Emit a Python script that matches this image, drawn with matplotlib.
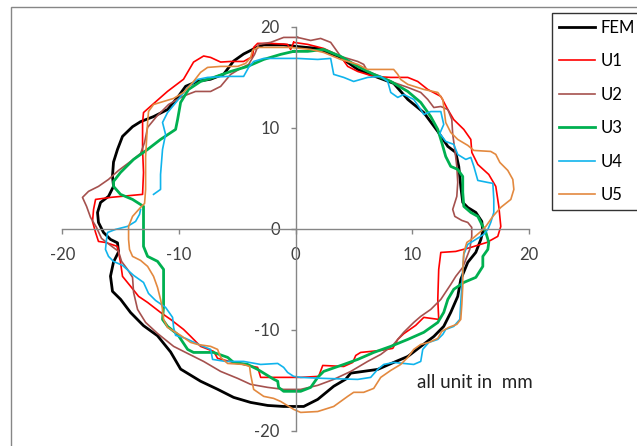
import matplotlib.pyplot as plt
from matplotlib.patches import Rectangle

plt.rcParams['font.family'] = ['Lato', 'DejaVu Sans']
plt.rcParams['axes.unicode_minus'] = False

# measured contours (mm), traced clockwise starting near the top
fem_x = [0.0, 1.89, 3.86, 5.32, 7.03, 8.40, 9.0, 9.61, 10.98, 12.18, 13.04, 13.72, 13.98, 14.15, 14.32,
         14.75, 15.44, 15.95, 16.04, 15.87, 15.44, 14.75, 14.15, 13.89, 13.29, 12.69, 11.84, 10.72, 9.61,
         8.40, 7.03, 4.72, 4.29, 3.26, 1.89, 0.69, -1.03, -2.40, -3.86, -5.32, -6.69, -8.15, -9.86, -10.72,
         -11.84, -13.04, -14.15, -15.0, -15.7, -15.87, -15.61, -15.18, -15.27, -15.87, -16.47, -16.9, -16.98,
         -16.72, -16.04, -15.61, -15.7, -15.61, -15.27, -14.84, -13.98, -13.29, -12.18, -10.98, -10.12, -9.43,
         -8.40, -7.29, -6.17, -5.32, -4.46, -3.43, -2.74, -1.03, 0.0]
fem_y = [18.05, 17.85, 16.96, 15.77, 14.98, 14.39, 13.6, 12.8, 11.5, 9.63, 8.15, 7.55, 6.15, 4.19, 2.6,
         2.1, 1.61, 0.72, -0.27, -1.06, -2.34, -3.33, -5.02, -6.7, -8.29, -9.67, -10.67, -11.66, -12.65,
         -13.24, -13.93, -14.3, -14.9, -15.6, -16.9, -17.6, -17.6, -17.5, -17.2, -16.7, -15.9, -15.1, -13.9,
         -12.2, -10.6, -9.6, -8.3, -7.0, -6.2, -4.7, -3.3, -2.3, -1.4, -1.06, -0.37, 0.62, 1.6,
         2.6, 3.2, 4.2, 5.2, 6.6, 7.85, 9.14, 10.1, 10.6, 11.1, 11.8, 13.0, 14.1,
         14.6, 14.8, 15.3, 16.6, 17.3, 17.9, 18.2, 18.2, 18.05]

u1_x = [-0.17, 1.03, 2.40, 3.86, 4.46, 5.32, 6.69, 8.15, 9.61, 10.46, 11.32, 12.44, 13.04, 13.55, 14.41,
        15.01, 15.10, 15.61, 16.55, 17.15, 17.41, 17.58, 17.32, 16.38, 15.01, 13.72, 12.44, 12.26, 12.18,
        12.26, 10.98, 10.29, 9.26, 8.75, 8.32, 7.29, 5.57, 5.15, 4.89, 4.12, 2.32, 1.97, 0.43, -3.0, -3.26,
        -5.32, -6.69, -7.03, -8.15, -9.0, -9.61, -10.72, -11.58, -12.69, -13.46, -14.15, -14.84, -15.01,
        -15.27, -16.3, -16.9, -17.15, -17.41, -17.32, -17.15, -15.87, -13.12, -13.04, -13.12, -13.12,
        -13.04, -12.26, -10.98, -9.61, -8.75, -7.89, -7.29, -6.43, -5.57, -4.46, -3.69, -3.60, -3.26,
        -2.14, -0.69, -0.43, -0.17]
u1_y = [18.45, 18.25, 17.85, 17.06, 16.07, 15.57, 15.08, 14.98, 14.98, 14.58, 13.79, 13.1, 11.8, 10.8, 9.83,
        8.84, 7.55, 6.36, 5.37, 4.19, 2.21, 0.23, -0.76, -1.36, -1.85, -2.25, -2.35, -4.03, -7.0,
        -8.98, -8.78, -9.57, -10.4, -10.96, -11.85, -12.05, -12.25, -12.55, -13.24, -13.64, -13.54, -14.62,
        -14.72, -14.72, -13.73, -13.24, -12.84, -12.15, -11.65, -10.66, -9.97, -8.98, -8.29, -7.3, -6.7,
        -5.7, -4.72, -3.34, -1.75, -1.36, -1.26, -0.37, 0.72, 1.91, 2.9, 3.1, 3.4, 5.57, 7.85, 10.5,
        11.5, 12.3, 13.6, 14.8, 16.5, 17.1, 16.96, 16.5, 16.56, 16.56, 17.06, 17.95, 18.35,
        18.35, 18.25, 17.75, 18.45]

u2_x = [0.17, 1.29, 2.14, 3.0, 3.86, 5.32, 5.83, 6.17, 7.29, 8.4, 9.61, 10.72, 11.32, 11.84, 12.44, 13.04,
        13.38, 13.46, 13.64, 13.81, 13.89, 13.81, 13.46, 13.64, 14.24, 14.75, 15.09, 15.09, 14.92, 14.32,
        13.72, 13.29, 12.44, 11.58, 10.72, 10.12, 9.26, 8.32, 7.29, 6.17, 4.72, 3.26, 1.89, 0.43, -1.03,
        -2.40, -3.86, -4.97, -6.43, -7.89, -9.26, -10.46, -11.84, -12.86, -13.55, -13.89, -13.98, -14.41,
        -14.92, -15.18, -15.87, -16.64, -17.07, -17.58, -17.92, -18.27, -17.75, -16.9, -16.04, -15.18,
        -14.15, -13.29, -12.95, -12.69, -11.92, -10.89, -9.69, -8.58, -7.29, -6.43, -5.57, -4.72, -4.03,
        -3.52, -3.17, -2.14, -1.03, 0.17]
u2_y = [18.94, 18.64, 18.84, 18.45, 17.06, 16.56, 16.27, 15.57, 15.08, 14.48, 13.99, 13.49, 12.8, 12.0, 12.1, 11.8,
        10.82, 9.34, 7.85, 6.17, 4.58, 3.2, 1.91, 1.22, 0.82, 0.62, 0.13, -0.76, -2.05, -3.83,
        -4.72, -5.52, -7.0, -7.99, -8.68, -9.28, -10.26, -11.55, -12.45, -13.14, -14.13, -14.92, -15.51, -15.91, -15.91,
        -15.71, -15.41, -14.82, -14.13, -13.14, -12.35, -11.65, -10.37, -9.28, -7.99, -6.31, -4.82, -4.03,
        -3.24, -2.25, -1.65, -0.96, 0.13, 1.12, 2.21, 3.1, 3.7, 4.19, 4.88, 5.77,
        6.66, 7.45, 8.54, 10.03, 11.11, 12.3, 13.1, 13.59, 13.59, 14.09, 15.28, 15.87, 16.27,
        17.26, 18.25, 18.45, 18.94, 18.94]

u3_x = [-0.17, 1.03, 2.40, 3.86, 5.32, 6.69, 8.15, 9.61, 10.72, 11.58, 12.18, 12.52, 12.86, 13.29, 13.89,
        14.32, 14.32, 14.41, 15.01, 15.61, 15.87, 16.30, 16.55, 16.47, 16.04, 16.04, 15.44, 14.41, 13.55,
        13.04, 12.69, 12.18, 10.98, 9.61, 8.15, 6.69, 5.32, 4.12, 2.40, 1.89, 1.29, 0.43, -1.03, -1.46,
        -1.54, -1.89, -3.26, -4.12, -5.32, -5.83, -7.03, -8.75, -9.26, -10.12, -10.98, -11.41, -11.32,
        -11.32, -11.32, -11.84, -12.69, -13.04, -13.04, -13.04, -13.98, -15.01, -15.61, -15.61, -15.01,
        -13.89, -12.69, -11.58, -10.29, -10.12, -9.86, -9.18, -8.15, -7.03, -5.57, -4.12, -2.74, -1.29, -0.17]
u3_y = [17.56, 17.56, 17.75, 17.06, 16.07, 15.28, 14.58, 13.59, 12.5, 11.1, 9.83, 8.54, 7.15, 6.17, 5.87,
        5.17, 3.6, 2.21, 1.61, 1.22, 0.62, -0.37, -1.36, -2.05, -2.74, -3.73, -4.82, -5.32, -6.0,
        -7.0, -8.29, -9.28, -10.26, -10.96, -11.65, -12.25, -12.94, -13.44, -14.13, -14.72, -15.71, -16.1, -16.1, -15.71,
        -15.1, -14.9, -13.93, -13.44, -13.24, -12.74, -12.25, -12.25, -11.95, -10.46, -9.67, -8.98, -7.69,
        -5.71, -4.03, -3.23, -2.74, -1.75, 0.92, 2.21, 2.9, 3.4, 4.19, 4.68, 5.57,
        6.86, 7.85, 8.84, 9.83, 10.8, 12.5, 13.79, 14.58, 14.98, 15.57, 16.07, 16.76, 17.26, 17.56]

# U4 is not closed: it starts and ends on the left side
u4_x = [-12.18, -11.58, -11.58, -11.41, -11.15, -11.41, -10.98, -10.12, -9.26, -8.4, -7.55, -5.83, -4.46,
        -4.03, -3.6, -2.74, -1.29, 0.17, 1.89, 3.0, 3.26, 4.12, 4.97, 6.17, 7.29, 7.89, 8.15, 8.75, 9.26,
        10.12, 10.72, 10.98, 11.58, 12.44, 12.69, 12.35, 12.86, 13.55, 13.89, 14.58, 15.01, 15.27, 15.61,
        16.47, 16.9, 16.98, 16.98, 16.72, 16.47, 16.12, 15.44, 14.75, 14.41, 14.32, 14.24, 14.15, 14.07,
        13.55, 12.86, 12.61, 12.18, 11.41, 10.89, 10.72, 10.12, 8.4, 7.55, 7.03, 6.43, 5.32, 2.40, 0.43,
        -0.17, -0.69, -1.03, -1.54, -3.0, -4.46, -6.0, -7.12, -7.29, -8.15, -9.43, -10.29, -10.46, -10.55,
        -11.15, -12.01, -12.61, -13.04, -13.89, -14.84, -15.61, -16.04, -16.3, -16.21, -16.12, -15.44,
        -14.41, -13.72, -13.38, -13.29]
u4_y = [3.4, 3.89, 5.37, 7.85, 9.34, 10.52, 11.5, 12.7, 13.99, 14.78, 14.98, 15.08, 15.08,
        15.97, 16.56, 16.86, 16.86, 16.86, 16.76, 16.86, 15.28, 14.98, 14.58, 14.98, 15.08, 14.58, 13.49, 13.0, 13.29,
        12.8, 11.8, 11.31, 11.6, 11.6, 10.32, 9.43, 8.64, 8.35, 7.35, 6.86, 7.06, 6.17, 4.78,
        4.58, 4.49, 2.9, 1.61, 0.62, -0.07, -0.56, -1.06, -1.55, -2.54, -4.03, -5.71, -7.3, -8.98,
        -9.67, -9.97, -10.46, -10.96, -11.26, -11.95, -13.14, -13.44, -13.24, -13.44, -13.93, -14.72, -14.92, -14.82, -14.72,
        -14.62, -14.23, -13.73, -13.34, -13.44, -13.14, -13.14, -12.94, -11.95, -11.55, -10.86, -10.56, -9.77, -8.78,
        -7.79, -7.1, -6.41, -5.32, -4.62, -3.63, -3.24, -2.74, -2.05, -1.06, -0.37, -0.07,
        0.23, 0.72, 1.42, 1.91]

u5_x = [-0.43, 1.29, 2.40, 3.86, 5.32, 6.17, 7.03, 8.4, 8.75, 9.0, 9.61, 10.98, 12.18, 12.61, 12.86, 13.29,
        13.89, 14.75, 15.27, 16.72, 17.15, 17.5, 18.18, 18.61, 18.7, 18.44, 17.58, 16.9, 16.3, 15.87, 15.18,
        14.67, 14.41, 14.32, 14.32, 14.24, 14.15, 13.81, 13.12, 12.52, 12.18, 11.41, 10.72, 10.12, 9.61,
        9.0, 8.15, 7.29, 6.69, 5.83, 4.97, 4.46, 3.26, 1.89, 0.43, -0.17, -1.29, -1.89, -2.74, -3.6, -3.86,
        -3.95, -4.46, -5.83, -6.43, -6.69, -7.29, -8.4, -9.0, -9.86, -10.98, -11.32, -11.41, -11.58,
        -11.84, -12.18, -12.69, -13.29, -13.98, -14.24, -14.32, -14.32, -13.98, -13.29, -12.95, -12.86,
        -12.86, -12.69, -12.61, -12.18, -11.32, -10.46, -9.61, -8.75, -8.15, -7.55, -6.43, -4.97, -4.29,
        -3.86, -3.69, -3.26, -2.14, -0.43]
u5_y = [17.95, 17.75, 17.45, 16.76, 16.27, 15.77, 15.77, 15.77, 15.28, 14.78, 14.29, 13.79, 13.49, 12.8, 10.52, 9.53,
        8.84, 8.25, 7.75, 7.65, 7.36, 6.56, 5.77, 4.88, 3.89, 2.9, 2.11, 1.22, 0.23, -0.27, -0.96,
        -1.36, -2.35, -4.03, -5.71, -7.5, -8.98, -9.47, -9.77, -10.17, -10.86, -11.26, -11.46, -11.95, -12.74,
        -13.44, -14.03, -14.72, -15.81, -16.2, -16.2, -16.6, -17.6, -18.1, -18.19, -17.89, -17.1, -16.8, -16.6, -15.91, -14.43,
        -13.64, -13.44, -13.34, -12.74, -11.95, -11.65, -11.46, -11.26, -10.56, -9.77, -8.98, -7.99, -7.0,
        -5.81, -4.72, -3.73, -3.14, -2.74, -2.05, -1.06, 0.23, 1.22, 2.11, 2.5, 3.89,
        7.15, 10.52, 11.61, 12.3, 12.6, 12.9, 13.49, 14.58, 15.48, 15.97, 16.07, 16.07, 16.37,
        16.96, 17.66, 17.95, 17.95, 17.95]

series = [('FEM', fem_x, fem_y, 'black', 2.0),
          ('U1', u1_x, u1_y, '#FF0000', 1.2),
          ('U2', u2_x, u2_y, '#A5514E', 1.2),
          ('U3', u3_x, u3_y, '#00B050', 2.0),
          ('U4', u4_x, u4_y, '#10B4EC', 1.2),
          ('U5', u5_x, u5_y, '#E3893F', 1.2)]

fig = plt.figure(figsize=(6.37, 4.46), dpi=100)
ax = fig.add_axes([0.0978, 0.0343, 0.7327, 0.9058])

for name, xs, ys, col, lw in series:
    ax.plot(xs, ys, color=col, lw=lw, label=name)

ax.set_xlim(-20, 20)
ax.set_ylim(-20, 20)
ax.set_xticks([-20, -10, 0, 10, 20])
ax.set_yticks([-20, -10, 0, 10, 20])

# axes cross at the origin, like the Excel chart
for side in ['top', 'right']:
    ax.spines[side].set_visible(False)
ax.spines['left'].set_position(('data', 0))
ax.spines['bottom'].set_position(('data', 0))
for side in ['left', 'bottom']:
    ax.spines[side].set_color('#868686')
    ax.spines[side].set_linewidth(1.0)
ax.tick_params(axis='x', direction='out', length=3.5, width=1, color='#868686',
               labelsize=12, labelcolor='#404040', pad=10)
ax.tick_params(axis='y', direction='out', length=3.5, width=1, color='#868686',
               labelsize=12, labelcolor='#404040', pad=8)

ax.text(10.38, -15.2, 'all unit in  mm', fontsize=13.5, color='#222222', ha='left', va='center')

leg = ax.legend(loc='upper left', bbox_to_anchor=(552 / 637, 1 - 13 / 446), bbox_transform=fig.transFigure,
                fontsize=12, handlelength=2.2, labelspacing=1.05, handletextpad=0.3,
                borderpad=0.4, borderaxespad=0, fancybox=False, frameon=True)
leg.get_frame().set_edgecolor('black')
leg.get_frame().set_linewidth(1.0)

# outer chart border
fig.patches.append(Rectangle((11 / 637, -0.05), 1.0, 1 - 7 / 446 + 0.05, transform=fig.transFigure,
                             fill=False, edgecolor='#868686', lw=1.0))

fig.savefig('out.png', dpi=100)
